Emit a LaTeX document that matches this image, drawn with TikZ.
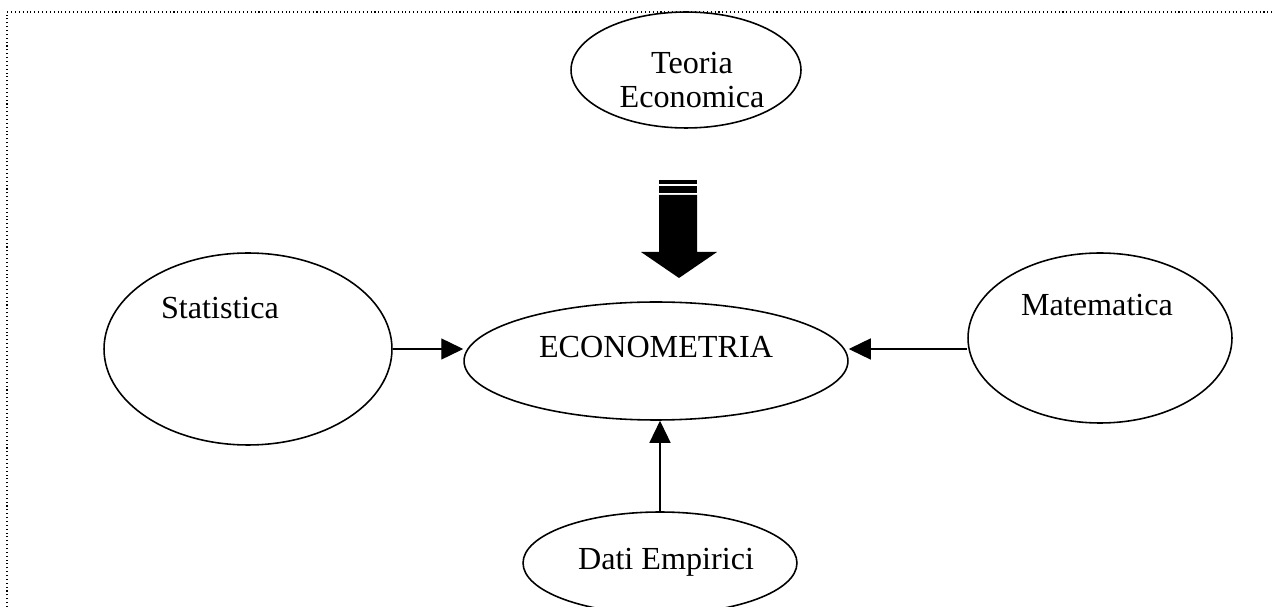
\documentclass[tikz,border=0pt]{standalone}
\usepackage{fontspec}
\setmainfont{Liberation Serif}
\usepackage{tikz}
\usetikzlibrary{arrows.meta, shapes.geometric}

\begin{document}
\begin{tikzpicture}[x = 0.02cm, y = -0.02cm,
    bubble/.style = {draw, ellipse, line width=0.9pt, inner sep=0pt},
    bubtext/.style = {font=\fontsize{18.3}{19.8}\selectfont, align=center},
    feed/.style = {line width=0.8pt, -{Triangle[length=0.44cm, width=0.42cm]}}]

            \useasboundingbox (0,0) rectangle (1274,607);

            % dotted frame
            \draw[line width=0.6pt, dash pattern=on 0.6pt off 1.6pt]
                (7,607) -- (7,12) -- (1274,12);

            \node[bubble, minimum width=4.6cm, minimum height=2.32cm,
                label={[bubtext, shift={(6,10)}]center:Teoria\\Economica}] (teoria) at (686,70) {};

            \node[bubble, minimum width=5.76cm, minimum height=3.84cm,
                label={[bubtext, shift={(-28,-41)}]center:Statistica}] (stat) at (248,349) {};

            \node[bubble, minimum width=7.68cm, minimum height=2.36cm,
                label={[bubtext, shift={(0,-14)}]center:ECONOMETRIA}] (econ) at (656,361) {};

            \node[bubble, minimum width=5.28cm, minimum height=3.4cm,
                label={[bubtext, shift={(-3,-33)}]center:Matematica}] (mat) at (1100,338) {};

            \node[bubble, minimum width=5.48cm, minimum height=2.04cm,
                label={[bubtext, shift={(6,-1)}]center:Dati Empirici}] (dati) at (660,563) {};

            % big arrow from the theory
            \foreach \ya/\yb in {180/184, 186/193}
            \fill (659,\ya) rectangle (697,\yb);
            \fill (659,195) -- (697,195) -- (697,252) -- (717,252)
                -- (679,278) -- (641,252) -- (659,252) -- cycle;

            \draw[feed] (stat.east) -- (stat.east -| econ.west);
            \draw[feed] (mat.west |- stat.east) -- (econ.east |- stat.east);
            \draw[feed] (dati.north) -- (dati.north |- econ.south);
\end{tikzpicture}
\end{document}
